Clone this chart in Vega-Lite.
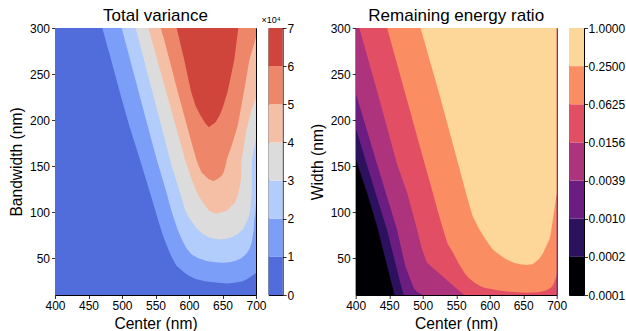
{
  "$schema": "https://vega.github.io/schema/vega-lite/v6.json",
  "padding": {"left": 8, "top": 6, "right": 0, "bottom": 0},
  "background": "white",
  "resolve": {"scale": {"color": "independent"}},
  "config": {
    "font": "Liberation Sans",
    "view": {"stroke": "black", "strokeWidth": 1},
    "axis": {"labelFont": "Liberation Sans", "labelFontSize": 12, "labelColor": "black", "titleFont": "Liberation Sans", "titleFontSize": 15.6, "titleFontWeight": "normal", "titleColor": "black", "tickColor": "black", "tickSize": 3.5, "tickWidth": 0.8, "domain": false, "grid": false, "labelPadding": 2, "titlePadding": 5, "labelFlush": false},
    "title": {"font": "Liberation Sans", "fontSize": 17, "fontWeight": "normal", "color": "black", "offset": -2.7}
  },
  "datasets": {
    "variance": [
      {"vb": 0, "y": 10, "xl": 400, "xr": 700}, {"vb": 0, "y": 300, "xl": 400, "xr": 700},
      {"vb": 1, "y": 22.4, "xl": 656.5, "xr": 656.5}, {"vb": 1, "y": 23.5, "xl": 640, "xr": 670}, {"vb": 1, "y": 25, "xl": 624, "xr": 680}, {"vb": 1, "y": 27.5, "xl": 610, "xr": 687}, {"vb": 1, "y": 31, "xl": 600, "xr": 694}, {"vb": 1, "y": 34, "xl": 594, "xr": 700}, {"vb": 1, "y": 41.4, "xl": 581.6, "xr": 700}, {"vb": 1, "y": 50, "xl": 575, "xr": 700}, {"vb": 1, "y": 59.6, "xl": 569.1, "xr": 700}, {"vb": 1, "y": 72, "xl": 562.5, "xr": 700}, {"vb": 1, "y": 84.8, "xl": 556.7, "xr": 700}, {"vb": 1, "y": 100, "xl": 550.5, "xr": 700}, {"vb": 1, "y": 121.1, "xl": 541.8, "xr": 700}, {"vb": 1, "y": 157, "xl": 526.9, "xr": 700}, {"vb": 1, "y": 195, "xl": 510.4, "xr": 700}, {"vb": 1, "y": 231, "xl": 496.5, "xr": 700}, {"vb": 1, "y": 267.5, "xl": 483, "xr": 700}, {"vb": 1, "y": 300, "xl": 470.6, "xr": 700},
      {"vb": 2, "y": 45.1, "xl": 651.2, "xr": 651.2}, {"vb": 2, "y": 45.5, "xl": 640, "xr": 660}, {"vb": 2, "y": 46.9, "xl": 626.4, "xr": 668.7}, {"vb": 2, "y": 50, "xl": 614, "xr": 678}, {"vb": 2, "y": 54.1, "xl": 604, "xr": 684.6}, {"vb": 2, "y": 60, "xl": 597, "xr": 690.5}, {"vb": 2, "y": 66.9, "xl": 591.5, "xr": 693.6}, {"vb": 2, "y": 80, "xl": 583.5, "xr": 696.5}, {"vb": 2, "y": 92, "xl": 578, "xr": 697.5}, {"vb": 2, "y": 100, "xl": 574.5, "xr": 699}, {"vb": 2, "y": 110, "xl": 570.5, "xr": 700}, {"vb": 2, "y": 121.1, "xl": 566.6, "xr": 700}, {"vb": 2, "y": 157.2, "xl": 551.8, "xr": 700}, {"vb": 2, "y": 200, "xl": 536, "xr": 700}, {"vb": 2, "y": 250, "xl": 517.8, "xr": 700}, {"vb": 2, "y": 300, "xl": 499.5, "xr": 700},
      {"vb": 3, "y": 70.4, "xl": 646.3, "xr": 646.3}, {"vb": 3, "y": 71, "xl": 638, "xr": 655}, {"vb": 3, "y": 72.6, "xl": 630, "xr": 663.7}, {"vb": 3, "y": 76, "xl": 621, "xr": 672}, {"vb": 3, "y": 81.6, "xl": 612, "xr": 681}, {"vb": 3, "y": 90, "xl": 604, "xr": 686.5}, {"vb": 3, "y": 95.7, "xl": 598.5, "xr": 689.5}, {"vb": 3, "y": 103, "xl": 594, "xr": 691.5}, {"vb": 3, "y": 121, "xl": 586.5, "xr": 693.6}, {"vb": 3, "y": 150, "xl": 574.2, "xr": 693.6}, {"vb": 3, "y": 157.2, "xl": 571.6, "xr": 694}, {"vb": 3, "y": 165, "xl": 568.8, "xr": 696}, {"vb": 3, "y": 180, "xl": 563.5, "xr": 700}, {"vb": 3, "y": 230, "xl": 545.6, "xr": 700}, {"vb": 3, "y": 300, "xl": 520.4, "xr": 700},
      {"vb": 4, "y": 98.6, "xl": 641.3, "xr": 641.3}, {"vb": 4, "y": 99.5, "xl": 635, "xr": 648}, {"vb": 4, "y": 101.4, "xl": 630, "xr": 656.3}, {"vb": 4, "y": 105, "xl": 626.4, "xr": 661}, {"vb": 4, "y": 110.2, "xl": 621, "xr": 668.7}, {"vb": 4, "y": 117.7, "xl": 614, "xr": 672.5}, {"vb": 4, "y": 128.2, "xl": 608, "xr": 676.1}, {"vb": 4, "y": 135.5, "xl": 604, "xr": 677.5}, {"vb": 4, "y": 157.2, "xl": 594, "xr": 678.6}, {"vb": 4, "y": 190, "xl": 581.5, "xr": 686}, {"vb": 4, "y": 210, "xl": 573.8, "xr": 693}, {"vb": 4, "y": 224, "xl": 568.5, "xr": 700}, {"vb": 4, "y": 260, "xl": 554.6, "xr": 700}, {"vb": 4, "y": 300, "xl": 539.3, "xr": 700},
      {"vb": 5, "y": 133.7, "xl": 636.3, "xr": 636.3}, {"vb": 5, "y": 136, "xl": 629, "xr": 643}, {"vb": 5, "y": 139.4, "xl": 624, "xr": 648.8}, {"vb": 5, "y": 142.8, "xl": 619, "xr": 651.5}, {"vb": 5, "y": 150, "xl": 614.5, "xr": 654.5}, {"vb": 5, "y": 157, "xl": 611, "xr": 656.3}, {"vb": 5, "y": 175, "xl": 604, "xr": 665}, {"vb": 5, "y": 195, "xl": 596.5, "xr": 673}, {"vb": 5, "y": 231, "xl": 583.1, "xr": 682}, {"vb": 5, "y": 265, "xl": 571, "xr": 690}, {"vb": 5, "y": 290, "xl": 562, "xr": 700}, {"vb": 5, "y": 300, "xl": 557.7, "xr": 700},
      {"vb": 6, "y": 192.2, "xl": 629.8, "xr": 629.8}, {"vb": 6, "y": 195, "xl": 626, "xr": 634.5}, {"vb": 6, "y": 198, "xl": 623, "xr": 640}, {"vb": 6, "y": 206, "xl": 616.4, "xr": 646.3}, {"vb": 6, "y": 215, "xl": 610, "xr": 651}, {"vb": 6, "y": 231, "xl": 603, "xr": 657.7}, {"vb": 6, "y": 265, "xl": 593, "xr": 667.5}, {"vb": 6, "y": 300, "xl": 581.6, "xr": 673.6}
    ],
    "energy": [
      {"eb": 0, "y": 10, "xl": 400, "xr": 700}, {"eb": 0, "y": 300, "xl": 400, "xr": 700},
      {"eb": 1, "y": 10, "xl": 458, "xr": 700}, {"eb": 1, "y": 48.7, "xl": 444.4, "xr": 700}, {"eb": 1, "y": 84.8, "xl": 431.9, "xr": 700}, {"eb": 1, "y": 121.1, "xl": 416.9, "xr": 700}, {"eb": 1, "y": 158, "xl": 400, "xr": 700}, {"eb": 1, "y": 300, "xl": 400, "xr": 700},
      {"eb": 2, "y": 10, "xl": 471.5, "xr": 700}, {"eb": 2, "y": 25, "xl": 466, "xr": 700}, {"eb": 2, "y": 45, "xl": 459, "xr": 700}, {"eb": 2, "y": 81.3, "xl": 446.5, "xr": 700}, {"eb": 2, "y": 121.1, "xl": 429.5, "xr": 700}, {"eb": 2, "y": 191.5, "xl": 400, "xr": 700}, {"eb": 2, "y": 300, "xl": 400, "xr": 700},
      {"eb": 3, "y": 10, "xl": 500, "xr": 700}, {"eb": 3, "y": 13, "xl": 492, "xr": 700}, {"eb": 3, "y": 17, "xl": 487, "xr": 700}, {"eb": 3, "y": 27, "xl": 481.5, "xr": 700}, {"eb": 3, "y": 41.5, "xl": 474, "xr": 700}, {"eb": 3, "y": 81.3, "xl": 461.5, "xr": 700}, {"eb": 3, "y": 151.8, "xl": 432, "xr": 700}, {"eb": 3, "y": 229.5, "xl": 400, "xr": 700}, {"eb": 3, "y": 300, "xl": 400, "xr": 700},
      {"eb": 4, "y": 10, "xl": 562, "xr": 700}, {"eb": 4, "y": 12, "xl": 559, "xr": 700}, {"eb": 4, "y": 18, "xl": 549, "xr": 700}, {"eb": 4, "y": 30.6, "xl": 529, "xr": 700}, {"eb": 4, "y": 45.1, "xl": 506.5, "xr": 700}, {"eb": 4, "y": 59.6, "xl": 499, "xr": 700}, {"eb": 4, "y": 81.3, "xl": 491.5, "xr": 700}, {"eb": 4, "y": 121.1, "xl": 476.8, "xr": 700}, {"eb": 4, "y": 151.8, "xl": 461.9, "xr": 700}, {"eb": 4, "y": 227.7, "xl": 433.4, "xr": 700}, {"eb": 4, "y": 300, "xl": 405.4, "xr": 700},
      {"eb": 5, "y": 12.5, "xl": 655, "xr": 655}, {"eb": 5, "y": 13, "xl": 640, "xr": 672}, {"eb": 5, "y": 13.5, "xl": 630, "xr": 676}, {"eb": 5, "y": 15, "xl": 614, "xr": 684}, {"eb": 5, "y": 18, "xl": 592, "xr": 691}, {"eb": 5, "y": 20, "xl": 585, "xr": 694}, {"eb": 5, "y": 23, "xl": 578, "xr": 696}, {"eb": 5, "y": 27, "xl": 571, "xr": 698}, {"eb": 5, "y": 29, "xl": 568, "xr": 699}, {"eb": 5, "y": 34, "xl": 562.5, "xr": 700}, {"eb": 5, "y": 37, "xl": 560, "xr": 700}, {"eb": 5, "y": 45, "xl": 553, "xr": 700}, {"eb": 5, "y": 55, "xl": 546, "xr": 700}, {"eb": 5, "y": 66, "xl": 537, "xr": 700}, {"eb": 5, "y": 85, "xl": 529, "xr": 700}, {"eb": 5, "y": 100, "xl": 523, "xr": 700}, {"eb": 5, "y": 125, "xl": 513.5, "xr": 700}, {"eb": 5, "y": 151.8, "xl": 503.3, "xr": 700}, {"eb": 5, "y": 227.7, "xl": 474.3, "xr": 700}, {"eb": 5, "y": 300, "xl": 446.9, "xr": 700},
      {"eb": 6, "y": 42.5, "xl": 655, "xr": 655}, {"eb": 6, "y": 43.4, "xl": 645, "xr": 664}, {"eb": 6, "y": 45, "xl": 636, "xr": 667}, {"eb": 6, "y": 49, "xl": 624, "xr": 673.7}, {"eb": 6, "y": 55, "xl": 612, "xr": 679.3}, {"eb": 6, "y": 60, "xl": 604, "xr": 682.4}, {"eb": 6, "y": 70.4, "xl": 594, "xr": 689}, {"eb": 6, "y": 75, "xl": 590, "xr": 690.6}, {"eb": 6, "y": 82, "xl": 584, "xr": 692.3}, {"eb": 6, "y": 95.7, "xl": 574.5, "xr": 695}, {"eb": 6, "y": 103, "xl": 571.5, "xr": 696.6}, {"eb": 6, "y": 121.1, "xl": 564.5, "xr": 700}, {"eb": 6, "y": 151.8, "xl": 553.2, "xr": 700}, {"eb": 6, "y": 227.7, "xl": 525, "xr": 700}, {"eb": 6, "y": 300, "xl": 496.8, "xr": 700}
    ],
    "cbvar": [
      {"vb": 0, "lo": 0, "hi": 1}, {"vb": 1, "lo": 1, "hi": 2}, {"vb": 2, "lo": 2, "hi": 3}, {"vb": 3, "lo": 3, "hi": 4}, {"vb": 4, "lo": 4, "hi": 5}, {"vb": 5, "lo": 5, "hi": 6}, {"vb": 6, "lo": 6, "hi": 7}
    ],
    "cbenergy": [
      {"eb": 0, "lo": 0, "hi": 1}, {"eb": 1, "lo": 1, "hi": 2}, {"eb": 2, "lo": 2, "hi": 3}, {"eb": 3, "lo": 3, "hi": 4}, {"eb": 4, "lo": 4, "hi": 5}, {"eb": 5, "lo": 5, "hi": 6}, {"eb": 6, "lo": 6, "hi": 7}
    ],
    "cbvarnote": [
      {"note": "×10⁴", "lo": 7}
    ]
  },
  "spacing": 13.7,
  "hconcat": [
    {
      "bounds": "flush",
      "spacing": 12.6,
      "hconcat": [
        {
          "width": 201, "height": 267,
          "title": "Total variance",
          "data": {"name": "variance"},
          "mark": {"type": "area", "orient": "horizontal", "clip": true},
          "encoding": {
            "y": {"field": "y", "type": "quantitative", "scale": {"domain": [10, 300], "nice": false, "zero": false}, "axis": {"values": [50, 100, 150, 200, 250, 300], "title": "Bandwidth (nm)"}},
            "x": {"field": "xl", "type": "quantitative", "stack": null, "scale": {"domain": [400, 700], "nice": false, "zero": false}, "axis": {"values": [400, 450, 500, 550, 600, 650, 700], "title": "Center (nm)"}},
            "x2": {"field": "xr"},
            "color": {"field": "vb", "type": "ordinal", "scale": {"domain": [0, 1, 2, 3, 4, 5, 6], "range": ["#516ddb", "#7b9ff9", "#b2ccfb", "#dddcdc", "#f5bfa6", "#ee8669", "#cf453c"]}, "legend": null}
          }
        },
        {
          "width": 14, "height": 267,
          "layer": [
            {
              "data": {"name": "cbvar"},
              "mark": {"type": "rect"},
              "encoding": {
                "y": {"field": "lo", "type": "quantitative", "scale": {"domain": [0, 7], "nice": false, "zero": false}, "axis": {"orient": "right", "values": [0, 1, 2, 3, 4, 5, 6, 7], "title": null, "labelPadding": 1}},
                "y2": {"field": "hi"},
                "color": {"field": "vb", "type": "ordinal", "scale": {"domain": [0, 1, 2, 3, 4, 5, 6], "range": ["#516ddb", "#7b9ff9", "#b2ccfb", "#dddcdc", "#f5bfa6", "#ee8669", "#cf453c"]}, "legend": null}
              }
            },
            {
              "data": {"name": "cbvarnote"},
              "mark": {"type": "text", "align": "right", "baseline": "bottom", "dy": -3, "dx": -2, "fontSize": 9, "color": "black", "font": "Liberation Sans"},
              "encoding": {
                "y": {"field": "lo", "type": "quantitative", "scale": {"domain": [0, 7], "nice": false, "zero": false}, "axis": {"orient": "right", "values": [0, 1, 2, 3, 4, 5, 6, 7], "title": null, "labelPadding": 1}},
                "x": {"value": "width"},
                "text": {"field": "note"}
              }
            }
          ]
        }
      ]
    },
    {
      "bounds": "flush",
      "spacing": 12.3,
      "hconcat": [
        {
          "width": 201, "height": 267,
          "title": "Remaining energy ratio",
          "data": {"name": "energy"},
          "mark": {"type": "area", "orient": "horizontal", "clip": true},
          "encoding": {
            "y": {"field": "y", "type": "quantitative", "scale": {"domain": [10, 300], "nice": false, "zero": false}, "axis": {"values": [50, 100, 150, 200, 250, 300], "title": "Width (nm)"}},
            "x": {"field": "xl", "type": "quantitative", "stack": null, "scale": {"domain": [400, 700], "nice": false, "zero": false}, "axis": {"values": [400, 450, 500, 550, 600, 650, 700], "title": "Center (nm)"}},
            "x2": {"field": "xr"},
            "color": {"field": "eb", "type": "ordinal", "scale": {"domain": [0, 1, 2, 3, 4, 5, 6], "range": ["#000004", "#2b115e", "#6b1d81", "#ac337c", "#e24f64", "#fb8d62", "#fdd699"]}, "legend": null}
          }
        },
        {
          "width": 15, "height": 267,
          "data": {"name": "cbenergy"},
          "mark": {"type": "rect"},
          "encoding": {
            "y": {"field": "lo", "type": "quantitative", "scale": {"domain": [0, 7], "nice": false, "zero": false}, "axis": {"orient": "right", "values": [0, 1, 2, 3, 4, 5, 6, 7], "title": null, "labelPadding": 0.5, "labelExpr": "['0.0001','0.0002','0.0010','0.0039','0.0156','0.0625','0.2500','1.0000'][datum.value]"}},
            "y2": {"field": "hi"},
            "color": {"field": "eb", "type": "ordinal", "scale": {"domain": [0, 1, 2, 3, 4, 5, 6], "range": ["#000004", "#2b115e", "#6b1d81", "#ac337c", "#e24f64", "#fb8d62", "#fdd699"]}, "legend": null}
          }
        }
      ]
    }
  ]
}
